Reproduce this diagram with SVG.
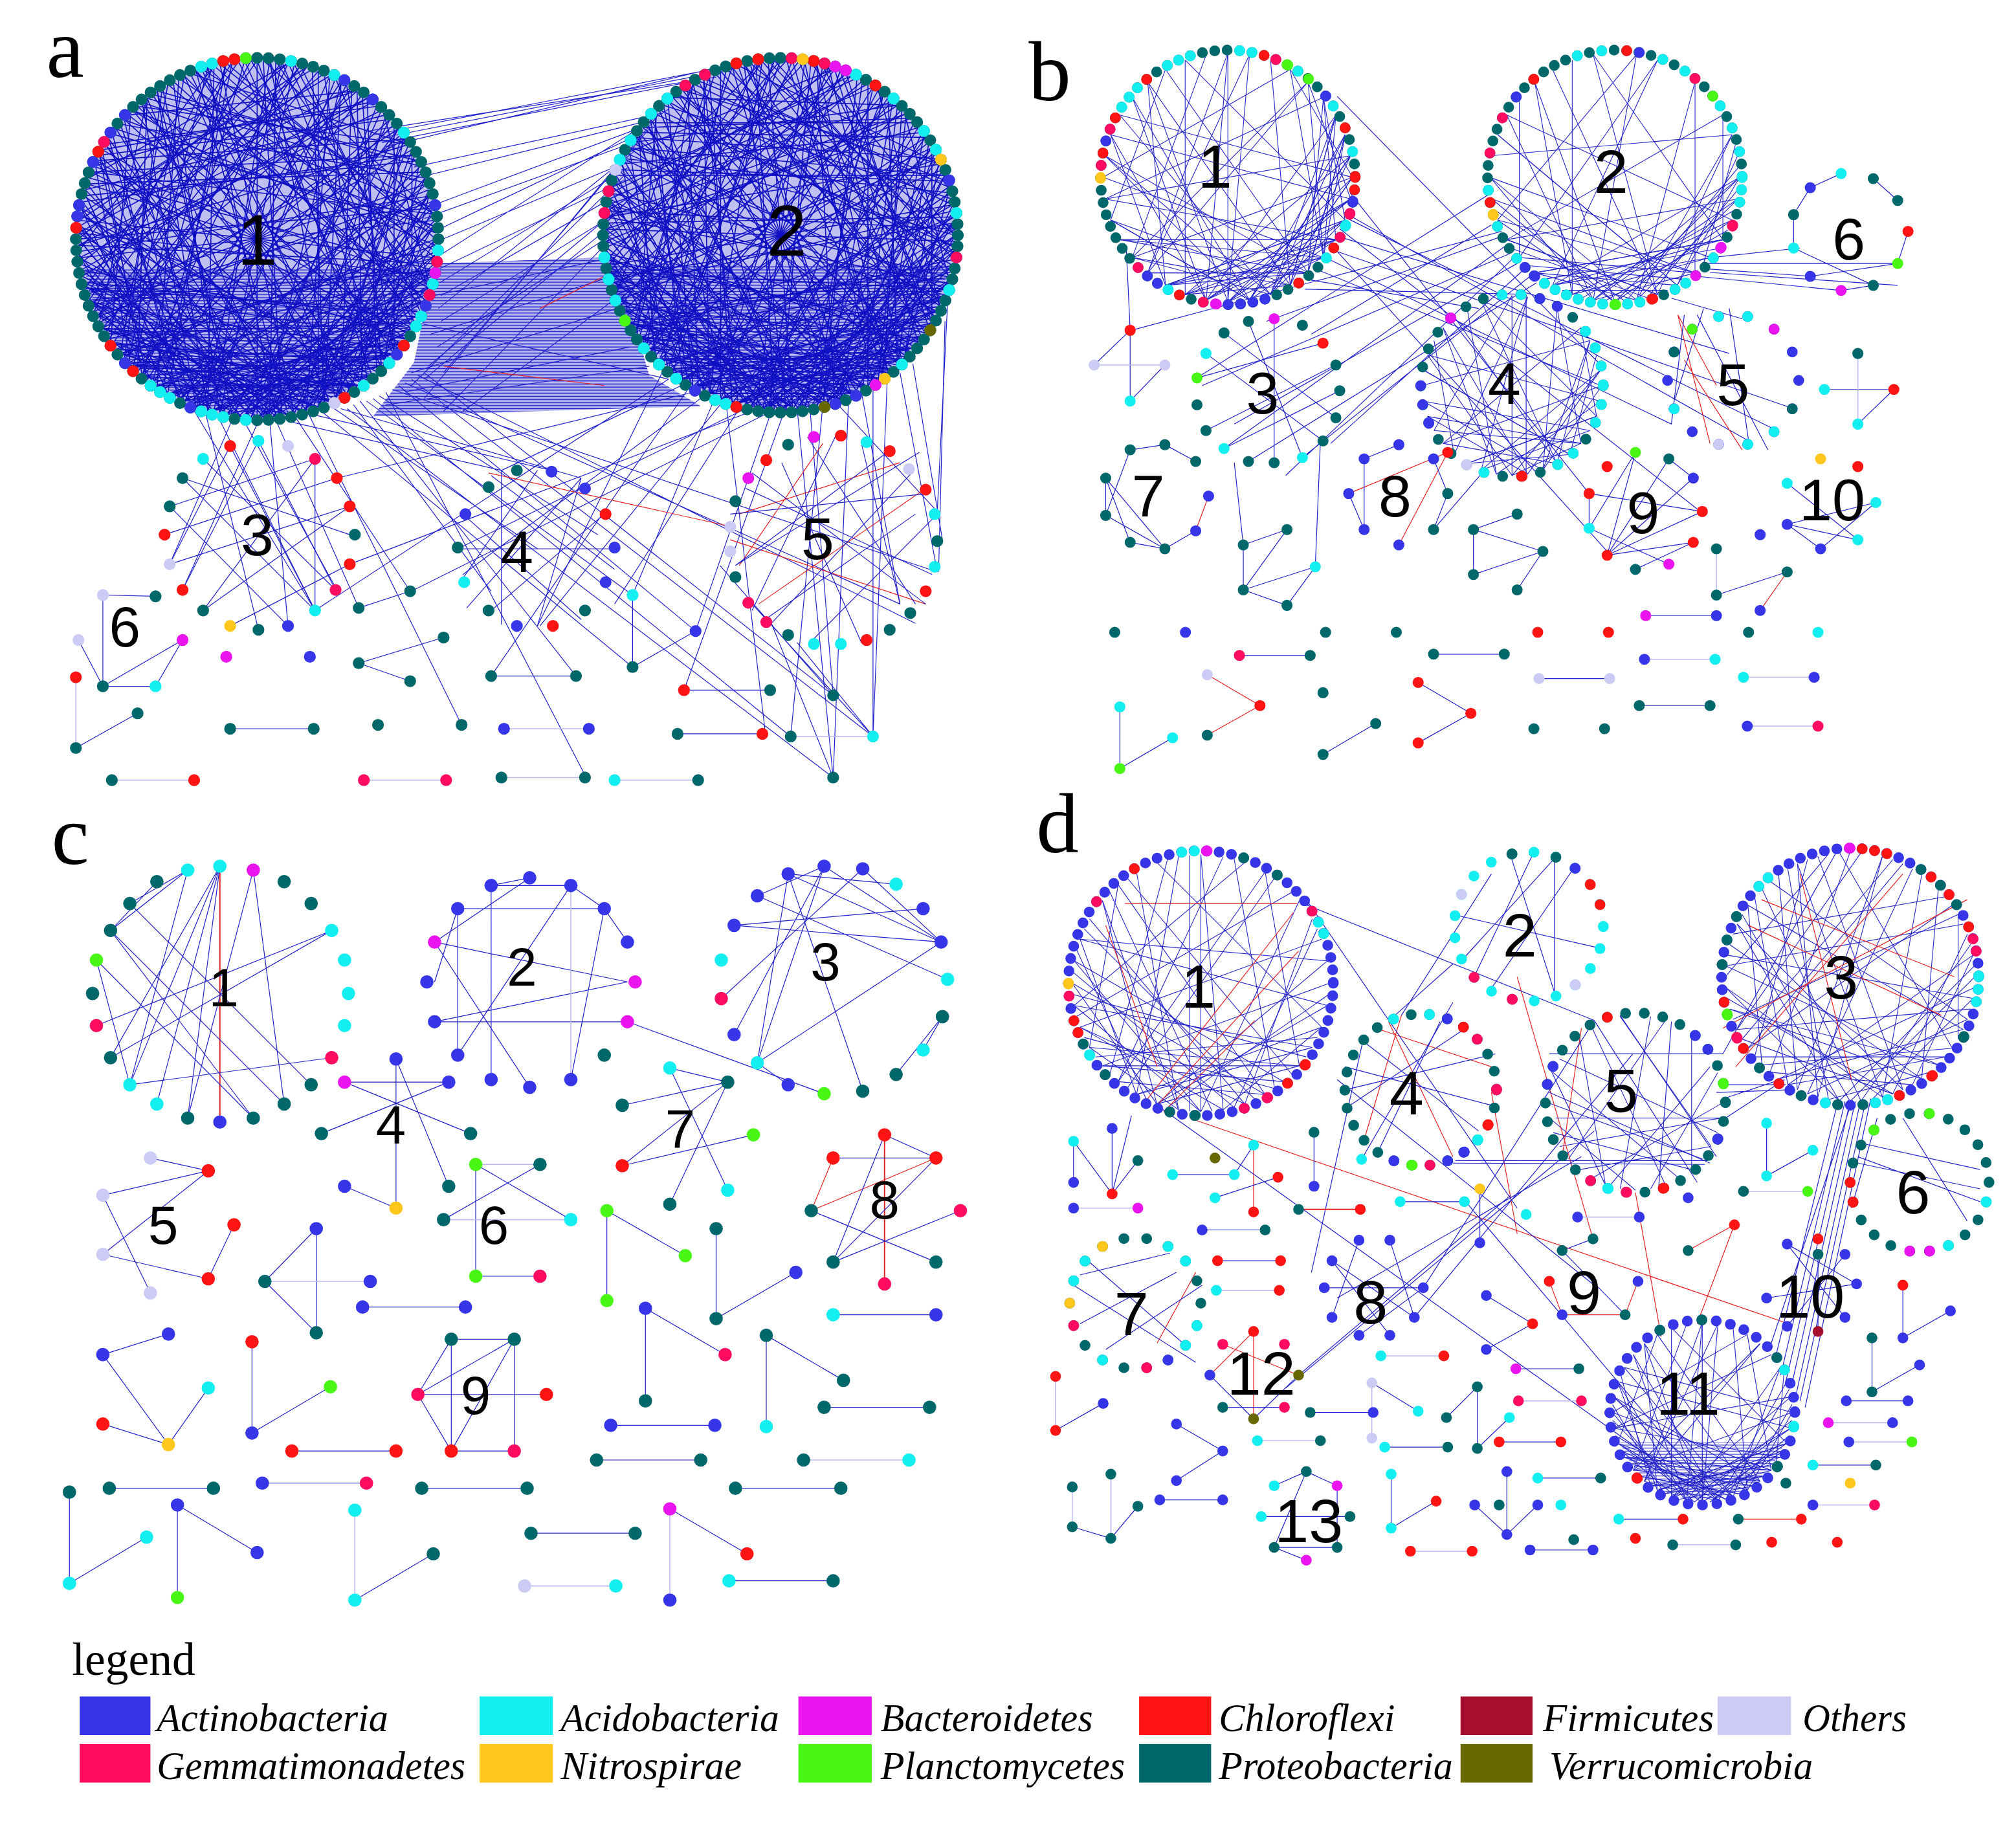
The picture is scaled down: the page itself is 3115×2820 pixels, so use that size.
<svg xmlns="http://www.w3.org/2000/svg" xmlns:xlink="http://www.w3.org/1999/xlink" width="3115" height="2820" viewBox="0 0 3115 2820">
<style>
.A{fill:#3636e8}.C{fill:#13eef0}.B{fill:#ea14ee}.R{fill:#ff1414}.F{fill:#a50f2d}.O{fill:#cbcbf5}.G{fill:#ff0c60}.N{fill:#ffc71c}.P{fill:#48f814}.T{fill:#00686a}.V{fill:#686800}
.sA{stroke:#3636e8}.sC{stroke:#13eef0}.sB{stroke:#ea14ee}.sR{stroke:#ff1414}.sO{stroke:#cbcbf5}.sG{stroke:#ff0c60}.sN{stroke:#ffc71c}.sP{stroke:#48f814}.sT{stroke:#00686a}.sV{stroke:#686800}.sF{stroke:#a50f2d}
.e{fill:none;stroke:#2020cc;stroke-width:.6}
.el{fill:none;stroke:#bcbcf0;stroke-width:.8}
.er{fill:none;stroke:#e82020;stroke-width:.6}
.cd{fill:none;vector-effect:non-scaling-stroke}
.chA{stroke:#1010c4;stroke-width:1.6}
.chB{stroke:#2424cc;stroke-width:1.1}
.rg{fill:none;stroke-width:9.2;stroke-linecap:round;stroke-dasharray:0 1}
.ro{fill:none;stroke-width:9.2;stroke-linecap:round}
.sm .rg,.sm .ro{stroke-width:8.4}
.lb{font-family:"Liberation Sans",Arial,sans-serif;fill:#000;text-anchor:middle}
.pl{font-family:"Liberation Serif","Times New Roman",serif;font-size:66px;fill:#000}
.lg{font-family:"Liberation Serif","Times New Roman",serif;font-style:italic;font-size:31px;fill:#000}
</style>
<defs>
<path id="ch" class="cd" d="M100 0L-76.6 64.3M98.5 17.4L-94 -34.2M94 34.2L-34.2 -94M86.6 50L-98.5 17.4M76.6 64.3L50 -86.6M64.3 76.6L-98.5 -17.4M50 86.6L-64.3 -76.6M34.2 94L86.6 -50M17.4 98.5L-94 34.2M0 100L0 -100M-17.4 98.5L-76.6 -64.3M-34.2 94L98.5 -17.4M-50 86.6L94 34.2M-64.3 76.6L17.4 -98.5M-86.6 50L76.6 64.3"/>
<path id="ch2" class="cd" d="M100 0L50 86.6M98.5 17.4L-17.4 98.5M94 34.2L0 100M86.6 50L-50 86.6M76.6 64.3L-34.2 94M34.2 94L-86.6 50M17.4 98.5L-64.3 76.6M-17.4 98.5L-100 0M0 100L-94 34.2M64.3 76.6L-76.6 64.3"/>
<pattern id="hz" patternUnits="userSpaceOnUse" width="20" height="2.4"><path d="M0 1.2H20" stroke="#1414c8" stroke-width=".8"/></pattern>
</defs>
<rect width="3115" height="2820" fill="#fff"/>
<g transform="scale(1.98661 1.98592)">

<!-- ================= PANEL A ================= -->
<g id="panel-a">
<text class="pl" x="36" y="60">a</text>
<g id="a-edges">
<circle cx="200" cy="186" r="139" fill="#1a1ac8" opacity=".28"/>
<circle cx="607" cy="183" r="136" fill="#1a1ac8" opacity=".28"/>
<path d="M338 205L478 200L505 292L545 316L290 324L322 282Z" fill="#1a1ac8" opacity=".3"/>
<path d="M334 209.6A136 136 0 0 1 66 209.6Z" fill="url(#hz)"/>
<path d="M738 206A133 133 0 0 1 476 206Z" fill="url(#hz)"/>
<path d="M338 205L478 200L505 292L545 316L290 324L322 282Z" fill="url(#hz)"/>
<g class="chA">
<use href="#ch" transform="translate(200 186) scale(1.39) rotate(0)"/>
<use href="#ch" transform="translate(200 186) scale(1.39) rotate(24)"/>
<use href="#ch" transform="translate(200 186) scale(1.39) rotate(48)"/>
<use href="#ch" transform="translate(200 186) scale(1.39) rotate(72)"/>
<use href="#ch" transform="translate(200 186) scale(1.39) rotate(96)"/>
<use href="#ch" transform="translate(200 186) scale(1.39) rotate(120)"/>
<use href="#ch" transform="translate(200 186) scale(1.39) rotate(144)"/>
<use href="#ch" transform="translate(200 186) scale(1.39) rotate(168)"/>
<use href="#ch" transform="translate(200 186) scale(1.39) rotate(192)"/>
<use href="#ch" transform="translate(200 186) scale(1.39) rotate(216)"/>
<use href="#ch" transform="translate(200 186) scale(1.39) rotate(240)"/>
<use href="#ch" transform="translate(200 186) scale(1.39) rotate(264)"/>
<use href="#ch" transform="translate(200 186) scale(1.39) rotate(288)"/>
<use href="#ch" transform="translate(200 186) scale(1.39) rotate(312)"/>
<use href="#ch" transform="translate(200 186) scale(1.39) rotate(336)"/>
<use href="#ch2" transform="translate(200 186) scale(1.39) rotate(0)"/>
<use href="#ch2" transform="translate(200 186) scale(1.39) rotate(15)"/>
<use href="#ch2" transform="translate(200 186) scale(1.39) rotate(-15)"/>
<use href="#ch2" transform="translate(200 186) scale(1.39) rotate(30)"/>
<use href="#ch2" transform="translate(200 186) scale(1.39) rotate(-30)"/>
<use href="#ch2" transform="translate(200 186) scale(1.39) rotate(45)"/>
<use href="#ch2" transform="translate(200 186) scale(1.39) rotate(-45)"/>
<use href="#ch" transform="translate(607 183) scale(1.36) rotate(8)"/>
<use href="#ch" transform="translate(607 183) scale(1.36) rotate(32)"/>
<use href="#ch" transform="translate(607 183) scale(1.36) rotate(56)"/>
<use href="#ch" transform="translate(607 183) scale(1.36) rotate(80)"/>
<use href="#ch" transform="translate(607 183) scale(1.36) rotate(104)"/>
<use href="#ch" transform="translate(607 183) scale(1.36) rotate(128)"/>
<use href="#ch" transform="translate(607 183) scale(1.36) rotate(152)"/>
<use href="#ch" transform="translate(607 183) scale(1.36) rotate(176)"/>
<use href="#ch" transform="translate(607 183) scale(1.36) rotate(200)"/>
<use href="#ch" transform="translate(607 183) scale(1.36) rotate(224)"/>
<use href="#ch" transform="translate(607 183) scale(1.36) rotate(248)"/>
<use href="#ch" transform="translate(607 183) scale(1.36) rotate(272)"/>
<use href="#ch" transform="translate(607 183) scale(1.36) rotate(296)"/>
<use href="#ch" transform="translate(607 183) scale(1.36) rotate(320)"/>
<use href="#ch" transform="translate(607 183) scale(1.36) rotate(344)"/>
<use href="#ch2" transform="translate(607 183) scale(1.36) rotate(0)"/>
<use href="#ch2" transform="translate(607 183) scale(1.36) rotate(15)"/>
<use href="#ch2" transform="translate(607 183) scale(1.36) rotate(-15)"/>
<use href="#ch2" transform="translate(607 183) scale(1.36) rotate(30)"/>
<use href="#ch2" transform="translate(607 183) scale(1.36) rotate(-30)"/>
<use href="#ch2" transform="translate(607 183) scale(1.36) rotate(-45)"/>
<use href="#ch2" transform="translate(607 183) scale(1.36) rotate(45)"/>
</g>
<path class="e" d="M290 105L548 55M293 108L553 57M297 111L545 62M300 114L560 52M286 102L557 60M500 95L318 140M495 110L330 170M490 125L335 190M486 140L340 210M483 150L343 230M481 165L343 250M480 180L340 270M505 100L345 290M510 92L330 310M487 135L320 300M502 98L336 160M493 118L341 240M484 160L333 285M520 85L340 200M515 88L322 130M498 104L338 180M489 130L342 220M482 170L330 295M478 200L338 230M476 215L335 260M480 240L320 290M490 270L315 305M505 285L300 315M520 295L320 250M476 185L345 320M482 230L360 320"/>
<path class="e" d="M150 318L245 475M170 325L245 475M190 328L262 459M215 328L279 473M230 325L319 460M240 322L359 564M260 318L418 427M280 312L448 526M300 305L456 605M310 300L541 491M330 290L648 541M250 320L492 519M290 310L615 573M320 295L679 573M270 318L648 605M200 330L142 459M180 328L132 439M225 328L390 366M245 323L429 366M265 318L452 372M285 312L492 463M305 303L729 445M315 298L700 470M325 292L712 485M210 330L224 487M160 322L201 490M275 315L382 460M295 308L465 416"/>
<path class="e" d="M530 300L390 366M560 315L420 487M580 318L356 427M600 320L320 460M540 305L262 372M620 318L648 605M640 315L615 573M520 295L245 475M555 312L492 463M590 318L272 439M610 320L532 537M650 313L729 398M670 305L700 470M700 290L729 445M630 318L648 541M575 318L478 470M545 310L360 447M660 310L648 605M600 320L541 491M690 297L679 573M710 283L733 420M515 290L418 487M535 303L382 526M565 316L595 568M737 236L729 398M679 300L679 573M735 250L730 445"/>
<path class="er" d="M380 368L570 410M575 440L640 345M590 470L720 380M420 240L470 215M345 285L470 300M568 420L720 470M575 400L700 360"/>
<path class="e" d="M179 347L245 475M201 343L261 459M142 372L272 416M132 394L245 357M128 416L262 372M132 439L272 394M142 459L201 343M158 475L245 357M179 487L272 439M224 487L132 394M245 475L142 372M261 459L158 357M272 394L158 475M245 475L245 357M179 347L132 439"/>
<path class="e" d="M382 370L478 443M418 366L360 450M452 372L363 473M452 372L418 487M360 400L452 482M356 427L478 427M390 366L390 486M470 400L382 475"/>
<path class="e" d="M628 340L712 470M650 339L585 475M670 345L700 470M690 352L572 440M710 367L600 485M722 384L568 400M729 400L630 500M725 447L580 380M598 480L712 400M608 360L670 500M585 368L720 470M572 440L715 352M585 470L679 573M600 485L648 605M620 500L679 573M560 440L648 541"/>
<path class="e" d="M80 463L121 464M80 463L80 534M80 534L121 534M80 534L142 498M121 534L142 498M61 498L80 534M107 555L59 582M179 567L244 567M382 526L448 526M492 463L492 519M492 519L541 491M532 537L599 537M527 571L593 571M279 516L345 496M279 516L319 530M279 473L319 460"/>
<path class="el" d="M87 607L151 607M283 607L347 607M390 605L455 605M478 607L543 607M392 567L458 567M615 573L679 573M59 527L59 582"/>
</g>
<g id="a-m1" class="ring">
<circle class="rg sT" cx="200" cy="186" r="141" pathLength="100"/>
<circle class="ro sC" cx="200" cy="186" r="141" pathLength="100" stroke-dasharray="0 3 0 3 0 1 0 4 0 3 0 11 0 2 0 1 0 1 0 3 0 1 0 1 0 35 0 1 0 7 0 4 0 8 0 11" transform="rotate(3.6 200 186)"/>
<circle class="ro sA" cx="200" cy="186" r="141" pathLength="100" stroke-dasharray="0 5 0 20 0 7 0 14 0 1 0 4 0 3 0 2 0 21 0 3 0 11 0 9" transform="rotate(21.6 200 186)"/>
<circle class="ro sR" cx="200" cy="186" r="141" pathLength="100" stroke-dasharray="0 7 0 20 0 3 0 11 0 7 0 14 0 1 0 37" transform="rotate(36 200 186)"/>
<circle class="ro sG" cx="200" cy="186" r="141" pathLength="100" stroke-dasharray="0 3 0 54 0 43" transform="rotate(7.2 200 186)"/>
<circle class="ro sB" cx="200" cy="186" r="141" pathLength="100" stroke-dasharray="0 100" transform="rotate(10.8 200 186)"/>
<circle class="ro sP" cx="200" cy="186" r="141" pathLength="100" stroke-dasharray="0 100" transform="rotate(266.4 200 186)"/>
<circle class="ro sO" cx="200" cy="186" r="141" pathLength="100" stroke-dasharray="0 100" transform="rotate(64.8 200 186)"/>
<text class="lb" x="200" y="206" font-size="56">1</text>
</g>
<g id="a-m2" class="ring">
<circle class="rg sT" cx="607" cy="183" r="138" pathLength="100"/>
<circle class="ro sC" cx="607" cy="183" r="138" pathLength="100" stroke-dasharray="0 8 0 17 0 1 0 4 0 2 0 2 0 5 0 2 0 2 0 9 0 2 0 3 0 2 0 18 0 4 0 4 0 2 0 6 0 7" transform="rotate(18 607 183)"/>
<circle class="ro sG" cx="607" cy="183" r="138" pathLength="100" stroke-dasharray="0 50 0 2 0 12 0 2 0 8 0 3 0 23" transform="rotate(7.2 607 183)"/>
<circle class="ro sR" cx="607" cy="183" r="138" pathLength="100" stroke-dasharray="0 42 0 2 0 5 0 6 0 45" transform="rotate(104.4 607 183)"/>
<circle class="ro sN" cx="607" cy="183" r="138" pathLength="100" stroke-dasharray="0 62 0 16 0 22" transform="rotate(54 607 183)"/>
<circle class="ro sB" cx="607" cy="183" r="138" pathLength="100" stroke-dasharray="0 64 0 1 0 35" transform="rotate(57.6 607 183)"/>
<circle class="ro sA" cx="607" cy="183" r="138" pathLength="100" stroke-dasharray="0 2 0 13 0 62 0 23" transform="rotate(64.8 607 183)"/>
<circle class="ro sV" cx="607" cy="183" r="138" pathLength="100" stroke-dasharray="0 12 0 88" transform="rotate(32.4 607 183)"/>
<circle class="ro sP" cx="607" cy="183" r="138" pathLength="100" stroke-dasharray="0 100" transform="rotate(151.2 607 183)"/>
<circle class="ro sO" cx="607" cy="183" r="138" pathLength="100" stroke-dasharray="0 100" transform="rotate(201.6 607 183)"/>
<text class="lb" x="612" y="199" font-size="56">2</text>
</g>
<g id="a-m3">
<circle class="R" cx="179" cy="347" r="4.6"/><circle class="C" cx="201" cy="343" r="4.6"/><circle class="O" cx="224" cy="347" r="4.6"/><circle class="G" cx="245" cy="357" r="4.6"/><circle class="R" cx="262" cy="372" r="4.6"/><circle class="R" cx="272" cy="394" r="4.6"/><circle class="T" cx="276" cy="416" r="4.6"/><circle class="R" cx="272" cy="439" r="4.6"/><circle class="G" cx="261" cy="459" r="4.6"/><circle class="C" cx="245" cy="475" r="4.6"/><circle class="A" cx="224" cy="487" r="4.6"/><circle class="T" cx="201" cy="490" r="4.6"/><circle class="N" cx="179" cy="487" r="4.6"/><circle class="T" cx="158" cy="475" r="4.6"/><circle class="R" cx="142" cy="459" r="4.6"/><circle class="O" cx="132" cy="439" r="4.6"/><circle class="R" cx="128" cy="416" r="4.6"/><circle class="T" cx="132" cy="394" r="4.6"/><circle class="T" cx="142" cy="372" r="4.6"/><circle class="C" cx="158" cy="357" r="4.6"/>
<text class="lb" x="200" y="432" font-size="46">3</text>
</g>
<g id="a-m4">
<circle class="T" cx="402" cy="366" r="4.6"/><circle class="A" cx="429" cy="367" r="4.6"/><circle class="A" cx="455" cy="380" r="4.6"/><circle class="T" cx="380" cy="379" r="4.6"/><circle class="A" cx="362" cy="400" r="4.6"/><circle class="T" cx="356" cy="426" r="4.6"/><circle class="C" cx="361" cy="453" r="4.6"/><circle class="T" cx="380" cy="475" r="4.6"/><circle class="A" cx="402" cy="487" r="4.6"/><circle class="R" cx="430" cy="487" r="4.6"/><circle class="T" cx="455" cy="475" r="4.6"/><circle class="A" cx="471" cy="453" r="4.6"/><circle class="A" cx="478" cy="426" r="4.6"/><circle class="R" cx="471" cy="400" r="4.6"/>
<text class="lb" x="402" y="445" font-size="46">4</text>
</g>
<g id="a-m5">
<circle class="B" cx="633" cy="340" r="4.6"/><circle class="R" cx="654" cy="339" r="4.6"/><circle class="C" cx="674" cy="344" r="4.6"/><circle class="R" cx="692" cy="351" r="4.6"/><circle class="O" cx="707" cy="365" r="4.6"/><circle class="R" cx="720" cy="381" r="4.6"/><circle class="C" cx="727" cy="400" r="4.6"/><circle class="T" cx="729" cy="421" r="4.6"/><circle class="C" cx="727" cy="441" r="4.6"/><circle class="R" cx="720" cy="460" r="4.6"/><circle class="T" cx="708" cy="477" r="4.6"/><circle class="T" cx="692" cy="490" r="4.6"/><circle class="R" cx="674" cy="498" r="4.6"/><circle class="C" cx="654" cy="501" r="4.6"/><circle class="C" cx="633" cy="501" r="4.6"/><circle class="T" cx="613" cy="494" r="4.6"/><circle class="G" cx="596" cy="484" r="4.6"/><circle class="G" cx="582" cy="469" r="4.6"/><circle class="T" cx="572" cy="449" r="4.6"/><circle class="O" cx="568" cy="429" r="4.6"/><circle class="O" cx="568" cy="410" r="4.6"/><circle class="T" cx="572" cy="390" r="4.6"/><circle class="B" cx="582" cy="372" r="4.6"/><circle class="R" cx="596" cy="358" r="4.6"/><circle class="T" cx="613" cy="346" r="4.6"/>
<text class="lb" x="636" y="435" font-size="46">5</text>
</g>
<g id="a-m6">
<circle class="O" cx="80" cy="463" r="4.6"/><circle class="T" cx="121" cy="464" r="4.6"/><circle class="O" cx="61" cy="498" r="4.6"/><circle class="B" cx="142" cy="498" r="4.6"/><circle class="T" cx="80" cy="534" r="4.6"/><circle class="C" cx="121" cy="534" r="4.6"/><circle class="R" cx="59" cy="527" r="4.6"/>
<text class="lb" x="97" y="503" font-size="44">6</text>
</g>
<g id="a-other">
<circle class="T" cx="107" cy="555" r="4.6"/><circle class="T" cx="59" cy="582" r="4.6"/><circle class="T" cx="87" cy="607" r="4.6"/><circle class="R" cx="151" cy="607" r="4.6"/><circle class="T" cx="179" cy="567" r="4.6"/><circle class="T" cx="244" cy="567" r="4.6"/><circle class="G" cx="283" cy="607" r="4.6"/><circle class="G" cx="347" cy="607" r="4.6"/><circle class="T" cx="390" cy="605" r="4.6"/><circle class="T" cx="455" cy="605" r="4.6"/><circle class="C" cx="478" cy="607" r="4.6"/><circle class="T" cx="543" cy="607" r="4.6"/><circle class="T" cx="294" cy="564" r="4.6"/><circle class="T" cx="359" cy="564" r="4.6"/><circle class="A" cx="392" cy="567" r="4.6"/><circle class="A" cx="458" cy="567" r="4.6"/><circle class="T" cx="382" cy="526" r="4.6"/><circle class="T" cx="448" cy="526" r="4.6"/><circle class="B" cx="176" cy="511" r="4.6"/><circle class="A" cx="241" cy="511" r="4.6"/><circle class="T" cx="279" cy="473" r="4.6"/><circle class="T" cx="319" cy="460" r="4.6"/><circle class="T" cx="279" cy="516" r="4.6"/><circle class="T" cx="345" cy="496" r="4.6"/><circle class="T" cx="319" cy="530" r="4.6"/><circle class="C" cx="492" cy="463" r="4.6"/><circle class="T" cx="492" cy="519" r="4.6"/><circle class="A" cx="541" cy="491" r="4.6"/><circle class="R" cx="532" cy="537" r="4.6"/><circle class="T" cx="599" cy="537" r="4.6"/><circle class="T" cx="527" cy="571" r="4.6"/><circle class="R" cx="593" cy="571" r="4.6"/><circle class="T" cx="615" cy="573" r="4.6"/><circle class="C" cx="679" cy="573" r="4.6"/><circle class="T" cx="648" cy="541" r="4.6"/><circle class="T" cx="648" cy="605" r="4.6"/>
</g>
</g>

<!-- ================= PANEL B ================= -->
<g id="panel-b" class="sm">
<text class="pl" x="800" y="78">b</text>
<g id="b-edges">
<g class="chB">
<use href="#ch" transform="translate(955 138) scale(.97) rotate(0)"/>
<use href="#ch" transform="translate(955 138) scale(.97) rotate(40)"/>
<use href="#ch" transform="translate(955 138) scale(.97) rotate(80)"/>
<use href="#ch2" transform="translate(955 138) scale(.97) rotate(-40)"/>
<use href="#ch2" transform="translate(955 138) scale(.97) rotate(-60)"/>
<use href="#ch2" transform="translate(955 138) scale(.97) rotate(-20)"/>
<use href="#ch2" transform="translate(955 138) scale(.97) rotate(-50)"/>
<use href="#ch" transform="translate(1256 138) scale(.97) rotate(10)"/>
<use href="#ch" transform="translate(1256 138) scale(.97) rotate(60)"/>
<use href="#ch2" transform="translate(1256 138) scale(.97) rotate(-30)"/>
<use href="#ch2" transform="translate(1256 138) scale(.97) rotate(0)"/>
<use href="#ch2" transform="translate(1256 138) scale(.97) rotate(-15)"/>
<use href="#ch" transform="translate(1176 300) scale(.7) rotate(0)"/>
<use href="#ch" transform="translate(1176 300) scale(.7) rotate(50)"/>
<use href="#ch2" transform="translate(1176 300) scale(.7) rotate(-40)"/>
</g>
<path class="e" d="M1040 75L1245 284M1045 165L1360 343M1048 170L1382 335M1042 178L1320 396M1035 190L1250 429M1030 200L1300 330M1044 185L1345 275M1038 195L1395 318M1025 210L1245 300M1050 150L1236 384M1015 225L1187 229M1020 218L1150 240"/>
<path class="e" d="M1175 197L935 300M1180 205L960 330M1165 185L985 250M1160 175L1020 260M1185 210L1035 345M1190 215L1013 356M1170 192L952 349M1195 220L971 359M1160 150L931 294M1178 200L1000 370M1168 180L880 257"/>
<path class="e" d="M1327 205L1475 205M1325 209L1409 215M1330 212L1476 222M1335 200L1400 193M1320 215L1432 226M1300 232L1355 248M1187 229L1187 370M876 193L879 257M879 257L851 284M879 257L879 312M879 312L906 284"/>
<path class="el" d="M851 284L906 284"/>
<path class="e" d="M991 248L991 360M938 275L1029 343M952 259L1039 325M931 294L1029 267M938 335L1039 284M971 250L1013 356M952 349L1042 304M960 360L967 424M1027 343L1023 441M967 424L1001 412M967 424L967 459M967 459L1001 412M967 459L1001 471M967 459L1023 441M1001 471L1023 441"/>
<path class="er" d="M1305 245L1335 300M1305 245L1330 345M1310 280L1355 350M930 413L940 386M1049 384L1126 352M1088 424L1126 352M1390 445L1369 475M939 525L980 549M980 549L939 572"/>
<path class="e" d="M1320 245L1375 350M1310 245L1300 330M1345 240L1360 343M1325 240L1303 310"/>
<path class="e" d="M1395 193L1395 167M1395 167L1408 146M1408 146L1432 135M1457 139L1476 156M1484 180L1476 205M1395 193L1457 222M1408 215L1476 205M1432 226L1457 222"/>
<path class="e" d="M879 350L906 346M860 372L860 401M860 401L906 427M879 350L860 401M860 372L906 427M906 427L930 413M879 422L906 427M906 346L930 359M860 372L879 422"/>
<path class="e" d="M1061 357L1061 412M1061 357L1088 346M1115 412L1151 370M1126 384L1115 412M1049 384L1061 412M1115 357L1126 384M1146 412L1180 400M1146 412L1146 447M1146 412L1200 429M1146 447L1200 429M1180 459L1200 429"/>
<path class="e" d="M1250 432L1272 352M1250 432L1298 357M1250 432L1317 372M1250 432L1324 398M1250 432L1317 422M1236 411L1298 439M1236 384L1236 411M1272 443L1317 422M1236 411L1272 352M1298 357L1317 372M1236 384L1324 398"/>
<path class="e" d="M1390 408L1459 391M1390 408L1445 420M1416 427L1459 391M1390 408L1416 427M1390 376L1445 420M1419 303L1473 303M1473 303L1445 330M1335 463L1390 445"/>
<path class="el" d="M1445 275L1445 330M1335 427L1335 463M1279 513L1334 513M1356 527L1411 527M1359 565L1414 565"/>
<path class="e" d="M964 510L1019 510M1115 509L1170 509M1280 479L1335 479M1197 528L1252 528M1275 549L1330 549M871 550L871 598M871 598L912 574M1029 587L1070 563M1103 531L1144 555M1144 555L1103 578"/>
</g>
<g id="b-m1">
<circle class="rg sT" cx="955" cy="138" r="99" pathLength="64"/>
<circle class="ro sR" cx="955" cy="138" r="99" pathLength="64" stroke-dasharray="0 1 0 5 0 4 0 10 0 14 0 3 0 4 0 10 0 9 0 4"/>
<circle class="ro sA" cx="955" cy="138" r="99" pathLength="64" stroke-dasharray="0 11 0 1 0 1 0 1 0 6 0 1 0 12 0 22 0 9" transform="rotate(11.25 955 138)"/>
<circle class="ro sG" cx="955" cy="138" r="99" pathLength="64" stroke-dasharray="0 2 0 13 0 6 0 9 0 3 0 16 0 15" transform="rotate(16.875 955 138)"/>
<circle class="ro sC" cx="955" cy="138" r="99" pathLength="64" stroke-dasharray="0 3 0 14 0 17 0 1 0 1 0 3 0 1 0 1 0 4 0 1 0 4 0 4 0 4 0 6" transform="rotate(22.5 955 138)"/>
<circle class="ro sB" cx="955" cy="138" r="99" pathLength="64" stroke-dasharray="0 64" transform="rotate(95.625 955 138)"/>
<circle class="ro sN" cx="955" cy="138" r="99" pathLength="64" stroke-dasharray="0 64" transform="rotate(180 955 138)"/>
<circle class="ro sP" cx="955" cy="138" r="99" pathLength="64" stroke-dasharray="0 2 0 62" transform="rotate(298.125 955 138)"/>
<text class="lb" x="945" y="146" font-size="48">1</text>
</g>
<g id="b-m2">
<circle class="rg sT" cx="1256" cy="138" r="99" pathLength="64"/>
<circle class="ro sC" cx="1256" cy="138" r="99" pathLength="64" stroke-dasharray="0 1 0 1 0 5 0 3 0 1 0 2 0 1 0 1 0 1 0 1 0 1 0 1 0 1 0 1 0 1 0 3 0 3 0 3 0 14 0 2 0 5 0 2 0 4 0 2 0 2 0 2"/>
<circle class="ro sG" cx="1256" cy="138" r="99" pathLength="64" stroke-dasharray="0 30 0 3 0 18 0 13" transform="rotate(22.5 1256 138)"/>
<circle class="ro sB" cx="1256" cy="138" r="99" pathLength="64" stroke-dasharray="0 3 0 61" transform="rotate(33.75 1256 138)"/>
<circle class="ro sR" cx="1256" cy="138" r="99" pathLength="64" stroke-dasharray="0 17 0 11 0 8 0 28" transform="rotate(73.125 1256 138)"/>
<circle class="ro sP" cx="1256" cy="138" r="99" pathLength="64" stroke-dasharray="0 41 0 23" transform="rotate(90 1256 138)"/>
<circle class="ro sA" cx="1256" cy="138" r="99" pathLength="64" stroke-dasharray="0 1 0 15 0 11 0 37" transform="rotate(129.375 1256 138)"/>
<circle class="ro sN" cx="1256" cy="138" r="99" pathLength="64" stroke-dasharray="0 64" transform="rotate(163.125 1256 138)"/>
<text class="lb" x="1253" y="150" font-size="48">2</text>
</g>
<g id="b-m3">
<circle class="B" cx="991" cy="248" r="4.3"/><circle class="T" cx="1013" cy="253" r="4.3"/><circle class="R" cx="1029" cy="267" r="4.3"/><circle class="T" cx="1039" cy="284" r="4.3"/><circle class="T" cx="1042" cy="304" r="4.3"/><circle class="T" cx="1039" cy="325" r="4.3"/><circle class="T" cx="1029" cy="343" r="4.3"/><circle class="C" cx="1013" cy="356" r="4.3"/><circle class="T" cx="991" cy="360" r="4.3"/><circle class="T" cx="971" cy="359" r="4.3"/><circle class="C" cx="952" cy="349" r="4.3"/><circle class="T" cx="938" cy="335" r="4.3"/><circle class="T" cx="931" cy="315" r="4.3"/><circle class="P" cx="931" cy="294" r="4.3"/><circle class="C" cx="938" cy="275" r="4.3"/><circle class="T" cx="952" cy="259" r="4.3"/><circle class="T" cx="971" cy="250" r="4.3"/>
<circle class="T" cx="967" cy="424" r="4.3"/><circle class="T" cx="1001" cy="412" r="4.3"/><circle class="T" cx="967" cy="459" r="4.3"/><circle class="T" cx="1001" cy="471" r="4.3"/><circle class="C" cx="1023" cy="441" r="4.3"/>
<text class="lb" x="982" y="322" font-size="46">3</text>
</g>
<g id="b-m4">
<circle class="rg sT" cx="1176" cy="300" r="71" pathLength="30"/>
<circle class="ro sC" cx="1176" cy="300" r="71" pathLength="30" stroke-dasharray="0 1 0 1 0 2 0 1 0 4 0 13 0 1 0 4 0 1 0 1 0 1"/>
<circle class="ro sA" cx="1176" cy="300" r="71" pathLength="30" stroke-dasharray="0 1 0 1 0 9 0 1 0 18" transform="rotate(156 1176 300)"/>
<circle class="ro sR" cx="1176" cy="300" r="71" pathLength="30" stroke-dasharray="0 30" transform="rotate(84 1176 300)"/>
<circle class="ro sO" cx="1176" cy="300" r="71" pathLength="30" stroke-dasharray="0 30" transform="rotate(120 1176 300)"/>
<circle class="ro sB" cx="1176" cy="300" r="71" pathLength="30" stroke-dasharray="0 30" transform="rotate(228 1176 300)"/>
<text class="lb" x="1170" y="314" font-size="46">4</text>
</g>
<g id="b-m5">
<circle class="rg sA" cx="1348" cy="296" r="51" pathLength="14"/>
<circle class="ro sT" cx="1348" cy="296" r="51" pathLength="14" stroke-dasharray="0 7 0 7" transform="rotate(25.7 1348 296)"/>
<circle class="ro sC" cx="1348" cy="296" r="51" pathLength="14" stroke-dasharray="0 1 0 3 0 4 0 1 0 5" transform="rotate(51.4 1348 296)"/>
<circle class="ro sO" cx="1348" cy="296" r="51" pathLength="14" stroke-dasharray="0 14" transform="rotate(102.9 1348 296)"/>
<circle class="ro sP" cx="1348" cy="296" r="51" pathLength="14" stroke-dasharray="0 14" transform="rotate(231.4 1348 296)"/>
<circle class="ro sB" cx="1348" cy="296" r="51" pathLength="14" stroke-dasharray="0 14" transform="rotate(308.6 1348 296)"/>
<text class="lb" x="1348" y="315" font-size="46">5</text>
</g>
<g id="b-m6">
<circle class="A" cx="1408" cy="146" r="4.3"/><circle class="C" cx="1432" cy="135" r="4.3"/><circle class="T" cx="1457" cy="139" r="4.3"/><circle class="T" cx="1476" cy="156" r="4.3"/><circle class="R" cx="1484" cy="180" r="4.3"/><circle class="P" cx="1476" cy="205" r="4.3"/><circle class="T" cx="1457" cy="222" r="4.3"/><circle class="B" cx="1432" cy="226" r="4.3"/><circle class="A" cx="1408" cy="215" r="4.3"/><circle class="C" cx="1395" cy="193" r="4.3"/><circle class="T" cx="1395" cy="167" r="4.3"/>
<text class="lb" x="1438" y="202" font-size="46">6</text>
</g>
<g id="b-m7">
<circle class="T" cx="879" cy="350" r="4.3"/><circle class="T" cx="906" cy="346" r="4.3"/><circle class="T" cx="930" cy="359" r="4.3"/><circle class="A" cx="940" cy="386" r="4.3"/><circle class="A" cx="930" cy="413" r="4.3"/><circle class="T" cx="906" cy="427" r="4.3"/><circle class="T" cx="879" cy="422" r="4.3"/><circle class="T" cx="860" cy="401" r="4.3"/><circle class="T" cx="860" cy="372" r="4.3"/>
<text class="lb" x="893" y="402" font-size="46">7</text>
</g>
<g id="b-m8">
<circle class="A" cx="1061" cy="357" r="4.3"/><circle class="A" cx="1088" cy="346" r="4.3"/><circle class="A" cx="1115" cy="357" r="4.3"/><circle class="A" cx="1049" cy="384" r="4.3"/><circle class="A" cx="1061" cy="412" r="4.3"/><circle class="A" cx="1088" cy="424" r="4.3"/><circle class="T" cx="1126" cy="384" r="4.3"/><circle class="T" cx="1115" cy="412" r="4.3"/><circle class="R" cx="1126" cy="352" r="4.3"/>
<circle class="T" cx="1146" cy="412" r="4.3"/><circle class="T" cx="1180" cy="400" r="4.3"/><circle class="T" cx="1200" cy="429" r="4.3"/><circle class="T" cx="1146" cy="447" r="4.3"/><circle class="T" cx="1180" cy="459" r="4.3"/>
<text class="lb" x="1085" y="402" font-size="46">8</text>
</g>
<g id="b-m9">
<circle class="P" cx="1272" cy="352" r="4.3"/><circle class="T" cx="1298" cy="357" r="4.3"/><circle class="A" cx="1317" cy="372" r="4.3"/><circle class="R" cx="1324" cy="398" r="4.3"/><circle class="R" cx="1317" cy="422" r="4.3"/><circle class="B" cx="1298" cy="439" r="4.3"/><circle class="T" cx="1272" cy="443" r="4.3"/><circle class="R" cx="1250" cy="432" r="4.3"/><circle class="C" cx="1236" cy="411" r="4.3"/><circle class="R" cx="1236" cy="384" r="4.3"/><circle class="R" cx="1250" cy="363" r="4.3"/>
<text class="lb" x="1278" y="415" font-size="46">9</text>
</g>
<g id="b-m10">
<circle class="N" cx="1416" cy="357" r="4.3"/><circle class="R" cx="1445" cy="363" r="4.3"/><circle class="C" cx="1459" cy="391" r="4.3"/><circle class="C" cx="1445" cy="420" r="4.3"/><circle class="A" cx="1416" cy="427" r="4.3"/><circle class="A" cx="1390" cy="408" r="4.3"/><circle class="C" cx="1390" cy="376" r="4.3"/>
<text class="lb" x="1425" y="405" font-size="46">10</text>
</g>
<g id="b-other">
<circle class="R" cx="879" cy="257" r="4.3"/><circle class="O" cx="851" cy="284" r="4.3"/><circle class="O" cx="906" cy="284" r="4.3"/><circle class="C" cx="879" cy="312" r="4.3"/>
<circle class="T" cx="1445" cy="275" r="4.3"/><circle class="C" cx="1419" cy="303" r="4.3"/><circle class="R" cx="1473" cy="303" r="4.3"/><circle class="C" cx="1445" cy="330" r="4.3"/>
<circle class="A" cx="1369" cy="416" r="4.3"/><circle class="T" cx="1335" cy="427" r="4.3"/><circle class="T" cx="1390" cy="445" r="4.3"/><circle class="T" cx="1335" cy="463" r="4.3"/><circle class="A" cx="1369" cy="475" r="4.3"/>
<circle class="T" cx="867" cy="492" r="4.3"/><circle class="A" cx="922" cy="492" r="4.3"/><circle class="T" cx="1031" cy="492" r="4.3"/><circle class="T" cx="1086" cy="492" r="4.3"/><circle class="R" cx="1196" cy="492" r="4.3"/><circle class="R" cx="1251" cy="492" r="4.3"/><circle class="T" cx="1360" cy="492" r="4.3"/><circle class="C" cx="1414" cy="492" r="4.3"/>
<circle class="G" cx="964" cy="510" r="4.3"/><circle class="T" cx="1019" cy="510" r="4.3"/><circle class="T" cx="1115" cy="509" r="4.3"/><circle class="T" cx="1170" cy="509" r="4.3"/><circle class="B" cx="1280" cy="479" r="4.3"/><circle class="A" cx="1335" cy="479" r="4.3"/><circle class="A" cx="1279" cy="513" r="4.3"/><circle class="C" cx="1334" cy="513" r="4.3"/><circle class="O" cx="1197" cy="528" r="4.3"/><circle class="O" cx="1252" cy="528" r="4.3"/><circle class="C" cx="1356" cy="527" r="4.3"/><circle class="A" cx="1411" cy="527" r="4.3"/><circle class="T" cx="1275" cy="549" r="4.3"/><circle class="T" cx="1330" cy="549" r="4.3"/><circle class="A" cx="1359" cy="565" r="4.3"/><circle class="G" cx="1414" cy="565" r="4.3"/>
<circle class="O" cx="939" cy="525" r="4.3"/><circle class="R" cx="980" cy="549" r="4.3"/><circle class="T" cx="939" cy="572" r="4.3"/><circle class="C" cx="871" cy="550" r="4.3"/><circle class="P" cx="871" cy="598" r="4.3"/><circle class="C" cx="912" cy="574" r="4.3"/><circle class="T" cx="1029" cy="539" r="4.3"/><circle class="T" cx="1029" cy="587" r="4.3"/><circle class="T" cx="1070" cy="563" r="4.3"/><circle class="R" cx="1103" cy="531" r="4.3"/><circle class="R" cx="1144" cy="555" r="4.3"/><circle class="R" cx="1103" cy="578" r="4.3"/><circle class="T" cx="1193" cy="567" r="4.3"/><circle class="T" cx="1248" cy="567" r="4.3"/>
</g>
</g>

<!-- ================= PANEL C ================= -->
<g id="panel-c">
<text class="pl" x="40" y="672">c</text>
<g id="c-edges">
<path d="M171 674L171 873" fill="none" stroke="#e82020" stroke-width="1"/>
<path class="e" d="M171 674L101 844M171 674L122 859M171 674L86 823M171 674L146 870M197 677L146 870M122 686L86 724M146 677L86 724M146 677L101 703M86 724L221 859M101 703L242 844M86 724L197 870M75 747L197 870M75 747L101 844M75 798L258 724M86 823L258 724M101 844L258 823M101 844L146 677M197 677L221 859"/>
<path class="e" d="M356 707L470 707M356 707L356 821M382 689L382 840M338 795L488 795M412 683L338 733M444 689L356 821M444 689L470 707M382 689L444 689M338 733L412 846M338 733L488 764M338 795L488 764M488 795L641 851M338 764L356 707M444 840L470 707M382 689L412 683M470 707L488 733"/>
<path class="el" d="M444 689L444 840"/>
<path class="e" d="M613 680L732 733M641 674L732 733M671 676L732 733M589 697L737 762M571 720L732 733M613 680L589 827M641 674L571 805M671 676L561 777M613 680L671 849M641 674L589 827M697 688L613 680M571 720L718 707M589 697L641 674M732 733L589 827M697 836L733 791M718 817L733 791M613 844L589 827"/>
<path class="e" d="M308 824L308 940M268 842L349 842M268 842L366 882M349 842L250 882M308 824L349 923M268 923L308 940"/>
<path class="e" d="M117 901L162 911M80 930L162 911M162 911L80 976M80 930L117 1006M80 976L162 995M182 953L162 995"/>
<path class="e" d="M370 906L444 949M420 906L345 949M370 906L370 993M370 993L420 993"/>
<path class="el" d="M370 906L420 906M345 949L444 949"/>
<path class="e" d="M521 831L566 842M484 860L566 842M566 842L484 907M484 907L586 883M521 831L566 926M566 842L521 937"/>
<path d="M688 883L688 999" fill="none" stroke="#e82020" stroke-width="1"/>
<path class="er" d="M631 942L648 901M631 942L728 901"/>
<path class="e" d="M648 901L728 901M688 883L728 901M631 942L728 982M747 942L648 982M648 982L688 883M648 982L728 901"/>
<path class="e" d="M351 1042L400 1042M325 1085L425 1085M351 1129L400 1129M351 1042L351 1129M400 1042L400 1129M325 1085L351 1042M325 1085L400 1042M325 1085L351 1129M351 1129L400 1042"/>
<path class="e" d="M206 997L246 956M206 997L246 1037M246 956L246 1037M282 1017L362 1017M80 1054L131 1038M80 1054L131 1124M162 1080L131 1124M80 1108L131 1124M196 1044L196 1115M196 1115L257 1079M227 1129L308 1129M472 942L472 1012M472 942L533 977M557 956L557 1026M557 1026L619 990M648 1023L728 1023M502 1018L502 1090M502 1018L564 1054M596 1039L596 1110M596 1039L656 1074M641 1095L723 1095M475 1109L556 1109M464 1136L545 1136M85 1158L166 1158M204 1154L285 1154M328 1158L410 1158M572 1158L654 1158M54 1161L54 1232M54 1232L114 1196M138 1171L138 1243M138 1171L200 1208M276 1245L337 1209M413 1193L494 1193M521 1174L581 1209M567 1230L648 1230"/>
<path class="el" d="M206 997L288 997M625 1136L707 1136M276 1175L276 1245M521 1174L521 1245M408 1234L479 1234"/>
</g>
<g id="c-m1">
<circle class="C" cx="171" cy="674" r="5.2"/><circle class="B" cx="197" cy="677" r="5.2"/><circle class="T" cx="221" cy="686" r="5.2"/><circle class="T" cx="242" cy="703" r="5.2"/><circle class="C" cx="258" cy="724" r="5.2"/><circle class="C" cx="268" cy="747" r="5.2"/><circle class="C" cx="271" cy="773" r="5.2"/><circle class="C" cx="268" cy="798" r="5.2"/><circle class="G" cx="258" cy="823" r="5.2"/><circle class="T" cx="242" cy="844" r="5.2"/><circle class="T" cx="221" cy="859" r="5.2"/><circle class="T" cx="197" cy="870" r="5.2"/><circle class="A" cx="171" cy="873" r="5.2"/><circle class="T" cx="146" cy="870" r="5.2"/><circle class="C" cx="122" cy="859" r="5.2"/><circle class="C" cx="101" cy="844" r="5.2"/><circle class="T" cx="86" cy="823" r="5.2"/><circle class="G" cx="75" cy="798" r="5.2"/><circle class="T" cx="72" cy="773" r="5.2"/><circle class="P" cx="75" cy="747" r="5.2"/><circle class="T" cx="86" cy="724" r="5.2"/><circle class="T" cx="101" cy="703" r="5.2"/><circle class="T" cx="122" cy="686" r="5.2"/><circle class="C" cx="146" cy="677" r="5.2"/>
<text class="lb" x="174" y="783" font-size="42">1</text>
</g>
<g id="c-m2">
<circle class="A" cx="382" cy="689" r="5.2"/><circle class="A" cx="412" cy="683" r="5.2"/><circle class="A" cx="444" cy="689" r="5.2"/><circle class="A" cx="470" cy="707" r="5.2"/><circle class="A" cx="488" cy="733" r="5.2"/><circle class="B" cx="494" cy="764" r="5.2"/><circle class="B" cx="488" cy="795" r="5.2"/><circle class="T" cx="470" cy="821" r="5.2"/><circle class="A" cx="444" cy="840" r="5.2"/><circle class="A" cx="412" cy="846" r="5.2"/><circle class="A" cx="382" cy="840" r="5.2"/><circle class="A" cx="356" cy="821" r="5.2"/><circle class="A" cx="338" cy="795" r="5.2"/><circle class="A" cx="332" cy="764" r="5.2"/><circle class="B" cx="338" cy="733" r="5.2"/><circle class="A" cx="356" cy="707" r="5.2"/>
<text class="lb" x="406" y="767" font-size="42">2</text>
</g>
<g id="c-m3">
<circle class="A" cx="613" cy="680" r="5.2"/><circle class="A" cx="641" cy="674" r="5.2"/><circle class="A" cx="671" cy="676" r="5.2"/><circle class="C" cx="697" cy="688" r="5.2"/><circle class="A" cx="718" cy="707" r="5.2"/><circle class="A" cx="732" cy="733" r="5.2"/><circle class="C" cx="737" cy="762" r="5.2"/><circle class="T" cx="733" cy="791" r="5.2"/><circle class="C" cx="718" cy="817" r="5.2"/><circle class="T" cx="697" cy="836" r="5.2"/><circle class="T" cx="671" cy="849" r="5.2"/><circle class="P" cx="641" cy="851" r="5.2"/><circle class="A" cx="613" cy="844" r="5.2"/><circle class="C" cx="589" cy="827" r="5.2"/><circle class="A" cx="571" cy="805" r="5.2"/><circle class="G" cx="561" cy="777" r="5.2"/><circle class="C" cx="561" cy="747" r="5.2"/><circle class="A" cx="571" cy="720" r="5.2"/><circle class="A" cx="589" cy="697" r="5.2"/>
<text class="lb" x="642" y="763" font-size="42">3</text>
</g>
<g id="c-m4">
<circle class="A" cx="308" cy="824" r="5.2"/><circle class="B" cx="268" cy="842" r="5.2"/><circle class="A" cx="349" cy="842" r="5.2"/><circle class="T" cx="250" cy="882" r="5.2"/><circle class="T" cx="366" cy="882" r="5.2"/><circle class="T" cx="349" cy="923" r="5.2"/><circle class="A" cx="268" cy="923" r="5.2"/><circle class="N" cx="308" cy="940" r="5.2"/>
<text class="lb" x="304" y="890" font-size="42">4</text>
</g>
<g id="c-m5">
<circle class="O" cx="117" cy="901" r="5.2"/><circle class="R" cx="162" cy="911" r="5.2"/><circle class="O" cx="80" cy="930" r="5.2"/><circle class="O" cx="80" cy="976" r="5.2"/><circle class="R" cx="162" cy="995" r="5.2"/><circle class="R" cx="182" cy="953" r="5.2"/><circle class="O" cx="117" cy="1006" r="5.2"/>
<text class="lb" x="127" y="968" font-size="42">5</text>
</g>
<g id="c-m6">
<circle class="P" cx="370" cy="906" r="5.2"/><circle class="T" cx="420" cy="906" r="5.2"/><circle class="T" cx="345" cy="949" r="5.2"/><circle class="C" cx="444" cy="949" r="5.2"/><circle class="P" cx="370" cy="993" r="5.2"/><circle class="G" cx="420" cy="993" r="5.2"/>
<text class="lb" x="384" y="968" font-size="42">6</text>
</g>
<g id="c-m7">
<circle class="C" cx="521" cy="831" r="5.2"/><circle class="T" cx="566" cy="842" r="5.2"/><circle class="T" cx="484" cy="860" r="5.2"/><circle class="P" cx="586" cy="883" r="5.2"/><circle class="R" cx="484" cy="907" r="5.2"/><circle class="C" cx="566" cy="926" r="5.2"/><circle class="T" cx="521" cy="937" r="5.2"/>
<text class="lb" x="529" y="893" font-size="42">7</text>
</g>
<g id="c-m8">
<circle class="R" cx="688" cy="883" r="5.2"/><circle class="R" cx="648" cy="901" r="5.2"/><circle class="R" cx="728" cy="901" r="5.2"/><circle class="T" cx="631" cy="942" r="5.2"/><circle class="G" cx="747" cy="942" r="5.2"/><circle class="T" cx="648" cy="982" r="5.2"/><circle class="T" cx="728" cy="982" r="5.2"/><circle class="G" cx="688" cy="999" r="5.2"/>
<text class="lb" x="688" y="948" font-size="42">8</text>
</g>
<g id="c-m9">
<circle class="T" cx="351" cy="1042" r="5.2"/><circle class="T" cx="400" cy="1042" r="5.2"/><circle class="G" cx="325" cy="1085" r="5.2"/><circle class="R" cx="425" cy="1085" r="5.2"/><circle class="R" cx="351" cy="1129" r="5.2"/><circle class="G" cx="400" cy="1129" r="5.2"/>
<text class="lb" x="370" y="1100" font-size="42">9</text>
</g>
<g id="c-other">
<circle class="T" cx="206" cy="997" r="5.2"/><circle class="A" cx="246" cy="956" r="5.2"/><circle class="A" cx="288" cy="997" r="5.2"/><circle class="T" cx="246" cy="1037" r="5.2"/><circle class="A" cx="282" cy="1017" r="5.2"/><circle class="A" cx="362" cy="1017" r="5.2"/><circle class="A" cx="80" cy="1054" r="5.2"/><circle class="A" cx="131" cy="1038" r="5.2"/><circle class="C" cx="162" cy="1080" r="5.2"/><circle class="R" cx="80" cy="1108" r="5.2"/><circle class="N" cx="131" cy="1124" r="5.2"/><circle class="R" cx="196" cy="1044" r="5.2"/><circle class="A" cx="196" cy="1115" r="5.2"/><circle class="P" cx="257" cy="1079" r="5.2"/><circle class="R" cx="227" cy="1129" r="5.2"/><circle class="R" cx="308" cy="1129" r="5.2"/><circle class="P" cx="472" cy="942" r="5.2"/><circle class="P" cx="533" cy="977" r="5.2"/><circle class="P" cx="472" cy="1012" r="5.2"/><circle class="T" cx="557" cy="956" r="5.2"/><circle class="T" cx="557" cy="1026" r="5.2"/><circle class="A" cx="619" cy="990" r="5.2"/><circle class="C" cx="648" cy="1023" r="5.2"/><circle class="A" cx="728" cy="1023" r="5.2"/><circle class="A" cx="502" cy="1018" r="5.2"/><circle class="G" cx="564" cy="1054" r="5.2"/><circle class="T" cx="502" cy="1090" r="5.2"/><circle class="T" cx="596" cy="1039" r="5.2"/><circle class="T" cx="656" cy="1074" r="5.2"/><circle class="C" cx="596" cy="1110" r="5.2"/><circle class="T" cx="641" cy="1095" r="5.2"/><circle class="T" cx="723" cy="1095" r="5.2"/><circle class="A" cx="475" cy="1109" r="5.2"/><circle class="A" cx="556" cy="1109" r="5.2"/><circle class="T" cx="464" cy="1136" r="5.2"/><circle class="T" cx="545" cy="1136" r="5.2"/><circle class="T" cx="625" cy="1136" r="5.2"/><circle class="C" cx="707" cy="1136" r="5.2"/><circle class="T" cx="85" cy="1158" r="5.2"/><circle class="T" cx="166" cy="1158" r="5.2"/><circle class="A" cx="204" cy="1154" r="5.2"/><circle class="G" cx="285" cy="1154" r="5.2"/><circle class="T" cx="328" cy="1158" r="5.2"/><circle class="T" cx="410" cy="1158" r="5.2"/><circle class="T" cx="572" cy="1158" r="5.2"/><circle class="T" cx="654" cy="1158" r="5.2"/><circle class="T" cx="54" cy="1161" r="5.2"/><circle class="C" cx="54" cy="1232" r="5.2"/><circle class="C" cx="114" cy="1196" r="5.2"/><circle class="A" cx="138" cy="1171" r="5.2"/><circle class="A" cx="200" cy="1208" r="5.2"/><circle class="P" cx="138" cy="1243" r="5.2"/><circle class="C" cx="276" cy="1175" r="5.2"/><circle class="C" cx="276" cy="1245" r="5.2"/><circle class="T" cx="337" cy="1209" r="5.2"/><circle class="T" cx="413" cy="1193" r="5.2"/><circle class="T" cx="494" cy="1193" r="5.2"/><circle class="B" cx="521" cy="1174" r="5.2"/><circle class="R" cx="581" cy="1209" r="5.2"/><circle class="A" cx="521" cy="1245" r="5.2"/><circle class="O" cx="408" cy="1234" r="5.2"/><circle class="C" cx="479" cy="1234" r="5.2"/><circle class="C" cx="567" cy="1230" r="5.2"/><circle class="T" cx="648" cy="1230" r="5.2"/>
</g>
</g>

<!-- ================= PANEL D ================= -->
<g id="panel-d" class="sm">
<text class="pl" x="806" y="663">d</text>
<g id="d-edges">
<path d="M1388 1122A68 68 0 0 1 1260 1122Z" fill="url(#hz)" opacity=".7"/>
<g class="chB">
<use href="#ch" transform="translate(934 765) scale(1) rotate(0)"/>
<use href="#ch" transform="translate(934 765) scale(1) rotate(35)"/>
<use href="#ch" transform="translate(934 765) scale(1) rotate(70)"/>
<use href="#ch2" transform="translate(934 765) scale(1) rotate(20)"/>
<use href="#ch" transform="translate(1439 760) scale(.97) rotate(15)"/>
<use href="#ch" transform="translate(1439 760) scale(.97) rotate(55)"/>
<use href="#ch" transform="translate(1439 760) scale(.97) rotate(100)"/>
<use href="#ch2" transform="translate(1439 760) scale(.97) rotate(-30)"/>
<use href="#ch" transform="translate(1324 1099) scale(.7) rotate(0)"/>
<use href="#ch" transform="translate(1324 1099) scale(.7) rotate(40)"/>
<use href="#ch" transform="translate(1324 1099) scale(.7) rotate(80)"/>
<use href="#ch2" transform="translate(1324 1099) scale(.7) rotate(0)"/>
<use href="#ch2" transform="translate(1324 1099) scale(.7) rotate(25)"/>
<use href="#ch2" transform="translate(1324 1099) scale(.7) rotate(-25)"/>
<use href="#ch" transform="translate(1272 858) scale(.68) rotate(10)"/>
</g>
<path class="er" d="M875 703L1009 703M1006 710L891 857M976 794L905 865M1010 740L900 860M860 720L900 830M1340 800L1530 700M1360 720L1510 790M1400 680L1440 840M1350 830L1480 680M1370 700L1520 760M1080 795L1130 900M1070 800L1160 830M1090 790L1060 890M1230 800L1215 900M900 1045L930 990M931 872L1394 1031M1272 928L1292 1040M1349 953L1320 1030M1180 760L1239 964M1160 850L1180 960M975 1036L975 1104M941 1070L975 1036M951 1046L1010 1070M1215 1023L1264 1023M1205 997L1215 1023M1274 997L1264 1023M1313 973L1349 953M1352 1182L1401 1182M975 891L975 943"/>
<path class="e" d="M1175 666L1209 772M1209 668L1209 772M1192 665L1147 759M1223 677L1160 769M1132 712L1241 737M1139 745L1209 668"/>
<path class="e" d="M1046 848L1163 820M1060 810L1150 880M1050 860L1140 800M1120 795L1070 900M1046 830L1160 860"/>
<path class="e" d="M1205 820L1340 820M1205 830L1250 925M1240 794L1320 920M1300 795L1290 925M1210 870L1340 870M1330 830L1250 925M1260 790L1335 900M1205 850L1330 905"/>
<path class="e" d="M1450 890L1540 910M1445 900L1540 935M1445 905L1540 925M1480 870L1530 950M1460 870L1440 940"/>
<path class="e" d="M840 992L910 975M835 1000L930 1060M840 1030L915 990M860 1050L935 1000M845 980L920 1045"/>
<path class="e" d="M1036 981L1100 1025M1030 1002L1107 1002M1057 965L1036 1025M1081 965L1100 1025M1057 1039L1107 1002M1036 981L1081 1039M951 1095L999 1095M941 1070L975 1104M975 1104L1010 1070M991 1156L1016 1145M1016 1145L1040 1156M981 1180L1050 1180M991 1204L1016 1145M1040 1156L1040 1204M991 1204L1040 1204M1016 1214L991 1204M1215 973L1264 1023M1239 964L1215 973M1390 968L1435 1025M1374 1010L1444 999M1390 1032L1435 976M1414 976L1414 1036M1390 968L1444 999"/>
<path class="e" d="M1016 704L1240 794M900 860L1320 1160M1439 857L1389 1075M1443 857L1393 1080M1447 857L1397 1085M1451 857L1400 1090M1435 857L1385 1070M1430 855L1380 1060M1455 855L1404 1095M1440 858L1376 1050M1389 844L1338 844M1390 848L1335 850M1385 840L1340 855M1342 870L1388 840M1132 903L1328 903M1130 905L1326 906M1059 902L1130 780M1090 790L1160 680M1340 820L1430 660M1060 810L1020 990M1107 1002L1240 794M1100 1025L1270 820M1040 1010L1230 900M1000 1080L1240 880M1010 1070L1175 930M1016 700L1180 940M1040 840L1240 1000M1140 935L1330 1160M1130 750L1085 790"/>
<path class="e" d="M835 888L835 920M865 878L865 929M835 888L865 929M865 929L885 903M865 929L880 868M912 914L960 914M960 914L975 891M945 932L994 916M935 957L984 957M947 981L996 981M1022 881L1022 923M1089 935L1139 935M1151 925L1151 967M1374 874L1374 915M1374 915L1410 895M1480 1000L1480 1041M1480 1041L1517 1020M1456 1041L1456 1083M1456 1083L1493 1062M1436 1090L1484 1090M1410 1140L1459 1140M1259 1182L1309 1182M821 1113L858 1092M915 1108L951 1129M951 1129L915 1152M902 1167L951 1167M834 1188L864 1197M864 1197L885 1172M1019 1099L1068 1099M1067 1076L1103 1098M1156 1008L1192 1030M1156 1050L1192 1030M1077 1126L1126 1126M1125 1103L1149 1079M1149 1079L1149 1127M1149 1127L1174 1103M1179 1065L1228 1065M1166 1122L1214 1122M1082 1147L1082 1189M1082 1189L1117 1168M1172 1145L1172 1194M1147 1171L1172 1194M1196 1171L1172 1194M1190 1206L1239 1206M1196 1150L1245 1150"/>
<path d="M1010 941L1058 941" fill="none" stroke="#e82020" stroke-width="1"/>
<path class="el" d="M835 940L885 940M946 1004L995 1004M1227 947L1275 947M1356 927L1406 927M1422 1107L1472 1107M1438 1122L1487 1122M1410 1171L1458 1171M1301 1202L1350 1202M821 1071L821 1113M834 1157L834 1188M864 1147L864 1197M1067 1076L1067 1119M1074 1055L1123 1055M1181 1090L1230 1090M1097 1207L1145 1207M978 1121L1027 1121"/>
</g>
<g id="d-m1">
<circle class="rg sA" cx="934" cy="765" r="103" pathLength="66"/>
<circle class="ro sC" cx="934" cy="765" r="103" pathLength="66" stroke-dasharray="0 21 0 1 0 12 0 1 0 31" transform="rotate(147.3 934 765)"/>
<circle class="ro sT" cx="934" cy="765" r="103" pathLength="66" stroke-dasharray="0 2 0 6 0 3 0 25 0 3 0 27" transform="rotate(92.7 934 765)"/>
<circle class="ro sR" cx="934" cy="765" r="103" pathLength="66" stroke-dasharray="0 2 0 20 0 1 0 14 0 29" transform="rotate(38.2 934 765)"/>
<circle class="ro sG" cx="934" cy="765" r="103" pathLength="66" stroke-dasharray="0 2 0 19 0 8 0 20 0 17" transform="rotate(60 934 765)"/>
<circle class="ro sN" cx="934" cy="765" r="103" pathLength="66" stroke-dasharray="0 66" transform="rotate(180 934 765)"/>
<circle class="ro sB" cx="934" cy="765" r="103" pathLength="66" stroke-dasharray="0 66" transform="rotate(272.7 934 765)"/>
<text class="lb" x="932" y="784" font-size="48">1</text>
</g>
<g id="d-m2">
<circle class="rg sC" cx="1189" cy="721" r="58" pathLength="21"/>
<circle class="ro sT" cx="1189" cy="721" r="58" pathLength="21" stroke-dasharray="0 2 0 19" transform="rotate(257.1 1189 721)"/>
<circle class="ro sR" cx="1189" cy="721" r="58" pathLength="21" stroke-dasharray="0 1 0 20" transform="rotate(325.7 1189 721)"/>
<circle class="ro sA" cx="1189" cy="721" r="58" pathLength="21" stroke-dasharray="0 21" transform="rotate(308.6 1189 721)"/>
<circle class="ro sO" cx="1189" cy="721" r="58" pathLength="21" stroke-dasharray="0 9 0 12" transform="rotate(51.4 1189 721)"/>
<circle class="ro sG" cx="1189" cy="721" r="58" pathLength="21" stroke-dasharray="0 2 0 19" transform="rotate(102.9 1189 721)"/>
<text class="lb" x="1182" y="744" font-size="48">2</text>
</g>
<g id="d-m3">
<circle class="rg sA" cx="1439" cy="760" r="100" pathLength="64"/>
<circle class="ro sC" cx="1439" cy="760" r="100" pathLength="64" stroke-dasharray="0 1 0 1 0 11 0 1 0 4 0 22 0 1 0 23"/>
<circle class="ro sT" cx="1439" cy="760" r="100" pathLength="64" stroke-dasharray="0 10 0 2 0 3 0 4 0 9 0 2 0 2 0 17 0 2 0 2 0 11" transform="rotate(28.125 1439 760)"/>
<circle class="ro sR" cx="1439" cy="760" r="100" pathLength="64" stroke-dasharray="0 3 0 10 0 4 0 4 0 19 0 1 0 1 0 4 0 2 0 3 0 13" transform="rotate(50.625 1439 760)"/>
<circle class="ro sG" cx="1439" cy="760" r="100" pathLength="64" stroke-dasharray="0 34 0 1 0 29" transform="rotate(151.875 1439 760)"/>
<circle class="ro sB" cx="1439" cy="760" r="100" pathLength="64" stroke-dasharray="0 64" transform="rotate(270 1439 760)"/>
<circle class="ro sP" cx="1439" cy="760" r="100" pathLength="64" stroke-dasharray="0 64" transform="rotate(163.125 1439 760)"/>
<text class="lb" x="1432" y="777" font-size="48">3</text>
</g>
<g id="d-m4">
<circle class="rg sT" cx="1105" cy="848" r="59" pathLength="26"/>
<circle class="ro sC" cx="1105" cy="848" r="59" pathLength="26" stroke-dasharray="0 15 0 2 0 9" transform="rotate(41.5 1105 848)"/>
<circle class="ro sA" cx="1105" cy="848" r="59" pathLength="26" stroke-dasharray="0 1 0 3 0 13 0 9" transform="rotate(55.4 1105 848)"/>
<circle class="ro sR" cx="1105" cy="848" r="59" pathLength="26" stroke-dasharray="0 20 0 6" transform="rotate(27.7 1105 848)"/>
<circle class="ro sG" cx="1105" cy="848" r="59" pathLength="26" stroke-dasharray="0 6 0 17 0 3"/>
<circle class="ro sP" cx="1105" cy="848" r="59" pathLength="26" stroke-dasharray="0 26" transform="rotate(96.9 1105 848)"/>
<text class="lb" x="1094" y="867" font-size="48">4</text>
</g>
<g id="d-m5">
<circle class="rg sT" cx="1272" cy="858" r="70" pathLength="30"/>
<circle class="ro sA" cx="1272" cy="858" r="70" pathLength="30" stroke-dasharray="0 14 0 1 0 9 0 1 0 5" transform="rotate(24 1272 858)"/>
<circle class="ro sG" cx="1272" cy="858" r="70" pathLength="30" stroke-dasharray="0 2 0 28" transform="rotate(96 1272 858)"/>
<circle class="ro sR" cx="1272" cy="858" r="70" pathLength="30" stroke-dasharray="0 15 0 15" transform="rotate(72 1272 858)"/>
<circle class="ro sC" cx="1272" cy="858" r="70" pathLength="30" stroke-dasharray="0 30" transform="rotate(108 1272 858)"/>
<circle class="ro sP" cx="1272" cy="858" r="70" pathLength="30" stroke-dasharray="0 30" transform="rotate(348 1272 858)"/>
<text class="lb" x="1261" y="865" font-size="48">5</text>
</g>
<g id="d-m6">
<circle class="rg sT" cx="1493" cy="920" r="54" pathLength="22"/>
<circle class="ro sC" cx="1493" cy="920" r="54" pathLength="22" stroke-dasharray="0 3 0 19" transform="rotate(16.4 1493 920)"/>
<circle class="ro sB" cx="1493" cy="920" r="54" pathLength="22" stroke-dasharray="0 1 0 21" transform="rotate(81.8 1493 920)"/>
<circle class="ro sR" cx="1493" cy="920" r="54" pathLength="22" stroke-dasharray="0 1 0 21" transform="rotate(163.6 1493 920)"/>
<circle class="ro sP" cx="1493" cy="920" r="54" pathLength="22" stroke-dasharray="0 3 0 19" transform="rotate(229.1 1493 920)"/>
<text class="lb" x="1488" y="944" font-size="48">6</text>
</g>
<g id="d-m7">
<circle class="rg sT" cx="883" cy="1014" r="51" pathLength="18"/>
<circle class="ro sC" cx="883" cy="1014" r="51" pathLength="18" stroke-dasharray="0 1 0 4 0 4 0 1 0 4 0 1 0 3" transform="rotate(20 883 1014)"/>
<circle class="ro sA" cx="883" cy="1014" r="51" pathLength="18" stroke-dasharray="0 18" transform="rotate(60 883 1014)"/>
<circle class="ro sG" cx="883" cy="1014" r="51" pathLength="18" stroke-dasharray="0 4 0 14" transform="rotate(80 883 1014)"/>
<circle class="ro sN" cx="883" cy="1014" r="51" pathLength="18" stroke-dasharray="0 3 0 15" transform="rotate(180 883 1014)"/>
<text class="lb" x="880" y="1039" font-size="48">7</text>
</g>
<g id="d-m8">
<circle class="A" cx="1057" cy="965" r="4.2"/><circle class="A" cx="1081" cy="965" r="4.2"/><circle class="A" cx="1036" cy="981" r="4.2"/><circle class="A" cx="1030" cy="1002" r="4.2"/><circle class="A" cx="1107" cy="1002" r="4.2"/><circle class="A" cx="1036" cy="1025" r="4.2"/><circle class="A" cx="1100" cy="1025" r="4.2"/><circle class="A" cx="1057" cy="1039" r="4.2"/><circle class="A" cx="1081" cy="1039" r="4.2"/>
<text class="lb" x="1066" y="1030" font-size="48">8</text>
</g>
<g id="d-m9">
<circle class="T" cx="1215" cy="973" r="4.2"/><circle class="R" cx="1205" cy="997" r="4.2"/><circle class="A" cx="1215" cy="1023" r="4.2"/><circle class="T" cx="1264" cy="1023" r="4.2"/><circle class="A" cx="1274" cy="997" r="4.2"/><circle class="T" cx="1239" cy="964" r="4.2"/>
<text class="lb" x="1232" y="1022" font-size="48">9</text>
</g>
<g id="d-m10">
<circle class="A" cx="1390" cy="968" r="4.2"/><circle class="T" cx="1414" cy="976" r="4.2"/><circle class="A" cx="1435" cy="976" r="4.2"/><circle class="A" cx="1444" cy="999" r="4.2"/><circle class="A" cx="1435" cy="1025" r="4.2"/><circle class="F" cx="1414" cy="1036" r="4.2"/><circle class="A" cx="1390" cy="1032" r="4.2"/><circle class="A" cx="1374" cy="1010" r="4.2"/>
<text class="lb" x="1408" y="1025" font-size="48">10</text>
</g>
<g id="d-m11">
<circle class="rg sA" cx="1324" cy="1099" r="72" pathLength="40"/>
<circle class="ro sT" cx="1324" cy="1099" r="72" pathLength="40" stroke-dasharray="0 23 0 3 0 6 0 8" transform="rotate(36 1324 1099)"/>
<circle class="ro sR" cx="1324" cy="1099" r="72" pathLength="40" stroke-dasharray="0 40" transform="rotate(135 1324 1099)"/>
<circle class="ro sC" cx="1324" cy="1099" r="72" pathLength="40" stroke-dasharray="0 36 0 4" transform="rotate(9 1324 1099)"/>
<text class="lb" x="1313" y="1101" font-size="48">11</text>
</g>
<g id="d-m12">
<circle class="G" cx="951" cy="1046" r="4.2"/><circle class="R" cx="975" cy="1036" r="4.2"/><circle class="G" cx="999" cy="1046" r="4.2"/><circle class="A" cx="941" cy="1070" r="4.2"/><circle class="V" cx="1010" cy="1070" r="4.2"/><circle class="T" cx="951" cy="1095" r="4.2"/><circle class="V" cx="975" cy="1104" r="4.2"/><circle class="G" cx="999" cy="1095" r="4.2"/>
<text class="lb" x="981" y="1085" font-size="48">12</text>
</g>
<g id="d-m13">
<circle class="C" cx="991" cy="1156" r="4.2"/><circle class="T" cx="1016" cy="1145" r="4.2"/><circle class="B" cx="1040" cy="1156" r="4.2"/><circle class="C" cx="981" cy="1180" r="4.2"/><circle class="T" cx="1050" cy="1180" r="4.2"/><circle class="T" cx="991" cy="1204" r="4.2"/><circle class="T" cx="1040" cy="1204" r="4.2"/><circle class="B" cx="1016" cy="1214" r="4.2"/>
<text class="lb" x="1018" y="1200" font-size="48">13</text>
</g>
<g id="d-other">
<circle class="C" cx="835" cy="888" r="4.2"/><circle class="A" cx="835" cy="920" r="4.2"/><circle class="A" cx="865" cy="878" r="4.2"/><circle class="R" cx="865" cy="929" r="4.2"/><circle class="T" cx="885" cy="903" r="4.2"/><circle class="A" cx="835" cy="940" r="4.2"/><circle class="B" cx="885" cy="940" r="4.2"/><circle class="C" cx="912" cy="914" r="4.2"/><circle class="C" cx="960" cy="914" r="4.2"/><circle class="V" cx="945" cy="901" r="4.2"/><circle class="C" cx="975" cy="891" r="4.2"/><circle class="C" cx="945" cy="932" r="4.2"/><circle class="R" cx="994" cy="916" r="4.2"/><circle class="R" cx="975" cy="943" r="4.2"/><circle class="A" cx="935" cy="957" r="4.2"/><circle class="T" cx="984" cy="957" r="4.2"/><circle class="T" cx="1010" cy="941" r="4.2"/><circle class="R" cx="1058" cy="941" r="4.2"/><circle class="R" cx="947" cy="981" r="4.2"/><circle class="R" cx="996" cy="981" r="4.2"/><circle class="C" cx="946" cy="1004" r="4.2"/><circle class="R" cx="995" cy="1004" r="4.2"/><circle class="T" cx="1022" cy="881" r="4.2"/><circle class="A" cx="1022" cy="923" r="4.2"/><circle class="C" cx="1059" cy="902" r="4.2"/><circle class="C" cx="1089" cy="935" r="4.2"/><circle class="C" cx="1139" cy="935" r="4.2"/><circle class="N" cx="1151" cy="925" r="4.2"/><circle class="A" cx="1151" cy="967" r="4.2"/><circle class="C" cx="1187" cy="945" r="4.2"/><circle class="A" cx="1227" cy="947" r="4.2"/><circle class="A" cx="1275" cy="947" r="4.2"/><circle class="A" cx="1313" cy="932" r="4.2"/><circle class="T" cx="1313" cy="973" r="4.2"/><circle class="R" cx="1349" cy="953" r="4.2"/><circle class="C" cx="1374" cy="874" r="4.2"/><circle class="C" cx="1374" cy="915" r="4.2"/><circle class="C" cx="1410" cy="895" r="4.2"/><circle class="T" cx="1356" cy="927" r="4.2"/><circle class="P" cx="1406" cy="927" r="4.2"/><circle class="R" cx="1414" cy="964" r="4.2"/><circle class="R" cx="1480" cy="1000" r="4.2"/><circle class="A" cx="1480" cy="1041" r="4.2"/><circle class="A" cx="1517" cy="1020" r="4.2"/><circle class="T" cx="1456" cy="1041" r="4.2"/><circle class="T" cx="1456" cy="1083" r="4.2"/><circle class="A" cx="1493" cy="1062" r="4.2"/><circle class="A" cx="1436" cy="1090" r="4.2"/><circle class="A" cx="1484" cy="1090" r="4.2"/><circle class="B" cx="1422" cy="1107" r="4.2"/><circle class="A" cx="1472" cy="1107" r="4.2"/><circle class="A" cx="1438" cy="1122" r="4.2"/><circle class="P" cx="1487" cy="1122" r="4.2"/><circle class="C" cx="1410" cy="1140" r="4.2"/><circle class="T" cx="1459" cy="1140" r="4.2"/><circle class="N" cx="1439" cy="1154" r="4.2"/><circle class="A" cx="1410" cy="1171" r="4.2"/><circle class="G" cx="1458" cy="1171" r="4.2"/><circle class="R" cx="1378" cy="1200" r="4.2"/><circle class="R" cx="1429" cy="1200" r="4.2"/><circle class="T" cx="1352" cy="1182" r="4.2"/><circle class="R" cx="1401" cy="1182" r="4.2"/><circle class="C" cx="1259" cy="1182" r="4.2"/><circle class="R" cx="1309" cy="1182" r="4.2"/><circle class="R" cx="1272" cy="1197" r="4.2"/><circle class="T" cx="1301" cy="1202" r="4.2"/><circle class="T" cx="1350" cy="1202" r="4.2"/><circle class="T" cx="1389" cy="1154" r="4.2"/><circle class="R" cx="821" cy="1071" r="4.2"/><circle class="R" cx="821" cy="1113" r="4.2"/><circle class="A" cx="858" cy="1092" r="4.2"/><circle class="A" cx="915" cy="1108" r="4.2"/><circle class="A" cx="951" cy="1129" r="4.2"/><circle class="A" cx="915" cy="1152" r="4.2"/><circle class="A" cx="902" cy="1167" r="4.2"/><circle class="A" cx="951" cy="1167" r="4.2"/><circle class="T" cx="834" cy="1157" r="4.2"/><circle class="T" cx="864" cy="1147" r="4.2"/><circle class="T" cx="834" cy="1188" r="4.2"/><circle class="T" cx="864" cy="1197" r="4.2"/><circle class="T" cx="885" cy="1172" r="4.2"/><circle class="T" cx="1019" cy="1099" r="4.2"/><circle class="A" cx="1068" cy="1099" r="4.2"/><circle class="O" cx="1067" cy="1076" r="4.2"/><circle class="O" cx="1067" cy="1119" r="4.2"/><circle class="C" cx="1103" cy="1098" r="4.2"/><circle class="C" cx="1074" cy="1055" r="4.2"/><circle class="R" cx="1123" cy="1055" r="4.2"/><circle class="A" cx="1156" cy="1008" r="4.2"/><circle class="R" cx="1192" cy="1030" r="4.2"/><circle class="A" cx="1156" cy="1050" r="4.2"/><circle class="C" cx="978" cy="1121" r="4.2"/><circle class="T" cx="1027" cy="1121" r="4.2"/><circle class="C" cx="1077" cy="1126" r="4.2"/><circle class="T" cx="1126" cy="1126" r="4.2"/><circle class="T" cx="1125" cy="1103" r="4.2"/><circle class="T" cx="1149" cy="1079" r="4.2"/><circle class="T" cx="1149" cy="1127" r="4.2"/><circle class="C" cx="1174" cy="1103" r="4.2"/><circle class="B" cx="1179" cy="1065" r="4.2"/><circle class="T" cx="1228" cy="1065" r="4.2"/><circle class="G" cx="1181" cy="1090" r="4.2"/><circle class="G" cx="1230" cy="1090" r="4.2"/><circle class="R" cx="1166" cy="1122" r="4.2"/><circle class="R" cx="1214" cy="1122" r="4.2"/><circle class="C" cx="1082" cy="1147" r="4.2"/><circle class="C" cx="1082" cy="1189" r="4.2"/><circle class="R" cx="1117" cy="1168" r="4.2"/><circle class="R" cx="1097" cy="1207" r="4.2"/><circle class="R" cx="1145" cy="1207" r="4.2"/><circle class="A" cx="1147" cy="1171" r="4.2"/><circle class="T" cx="1166" cy="1171" r="4.2"/><circle class="A" cx="1172" cy="1145" r="4.2"/><circle class="A" cx="1172" cy="1194" r="4.2"/><circle class="A" cx="1196" cy="1171" r="4.2"/><circle class="C" cx="1214" cy="1171" r="4.2"/><circle class="A" cx="1190" cy="1206" r="4.2"/><circle class="A" cx="1239" cy="1206" r="4.2"/><circle class="T" cx="1224" cy="1198" r="4.2"/><circle class="C" cx="1196" cy="1150" r="4.2"/><circle class="T" cx="1245" cy="1150" r="4.2"/>
</g>
</g>

<!-- ================= LEGEND ================= -->
<g id="legend">
<text x="56" y="1303" font-family="Liberation Serif, Times New Roman, serif" font-size="36">legend</text>
<rect class="A" x="62" y="1320" width="55" height="30"/><text class="lg" x="122" y="1347" textLength="180" lengthAdjust="spacingAndGlyphs">Actinobacteria</text>
<rect class="C" x="373" y="1320" width="57" height="30"/><text class="lg" x="436" y="1347" textLength="170" lengthAdjust="spacingAndGlyphs">Acidobacteria</text>
<rect class="B" x="621" y="1320" width="57" height="30"/><text class="lg" x="685" y="1347" textLength="165" lengthAdjust="spacingAndGlyphs">Bacteroidetes</text>
<rect class="R" x="886" y="1320" width="56" height="30"/><text class="lg" x="948" y="1347" textLength="137" lengthAdjust="spacingAndGlyphs">Chloroflexi</text>
<rect class="F" x="1136" y="1320" width="56" height="30"/><text class="lg" x="1200" y="1347" textLength="133" lengthAdjust="spacingAndGlyphs">Firmicutes</text>
<rect class="O" x="1336" y="1320" width="57" height="30"/><text class="lg" x="1402" y="1347" textLength="81" lengthAdjust="spacingAndGlyphs">Others</text>
<rect class="G" x="62" y="1357" width="55" height="30"/><text class="lg" x="122" y="1384" textLength="240" lengthAdjust="spacingAndGlyphs">Gemmatimonadetes</text>
<rect class="N" x="373" y="1357" width="57" height="30"/><text class="lg" x="436" y="1384" textLength="141" lengthAdjust="spacingAndGlyphs">Nitrospirae</text>
<rect class="P" x="621" y="1357" width="57" height="30"/><text class="lg" x="685" y="1384" textLength="190" lengthAdjust="spacingAndGlyphs">Planctomycetes</text>
<rect class="T" x="886" y="1357" width="56" height="30"/><text class="lg" x="948" y="1384" textLength="182" lengthAdjust="spacingAndGlyphs">Proteobacteria</text>
<rect class="V" x="1136" y="1357" width="56" height="30"/><text class="lg" x="1205" y="1384" textLength="205" lengthAdjust="spacingAndGlyphs">Verrucomicrobia</text>
</g>
</g>
</svg>
